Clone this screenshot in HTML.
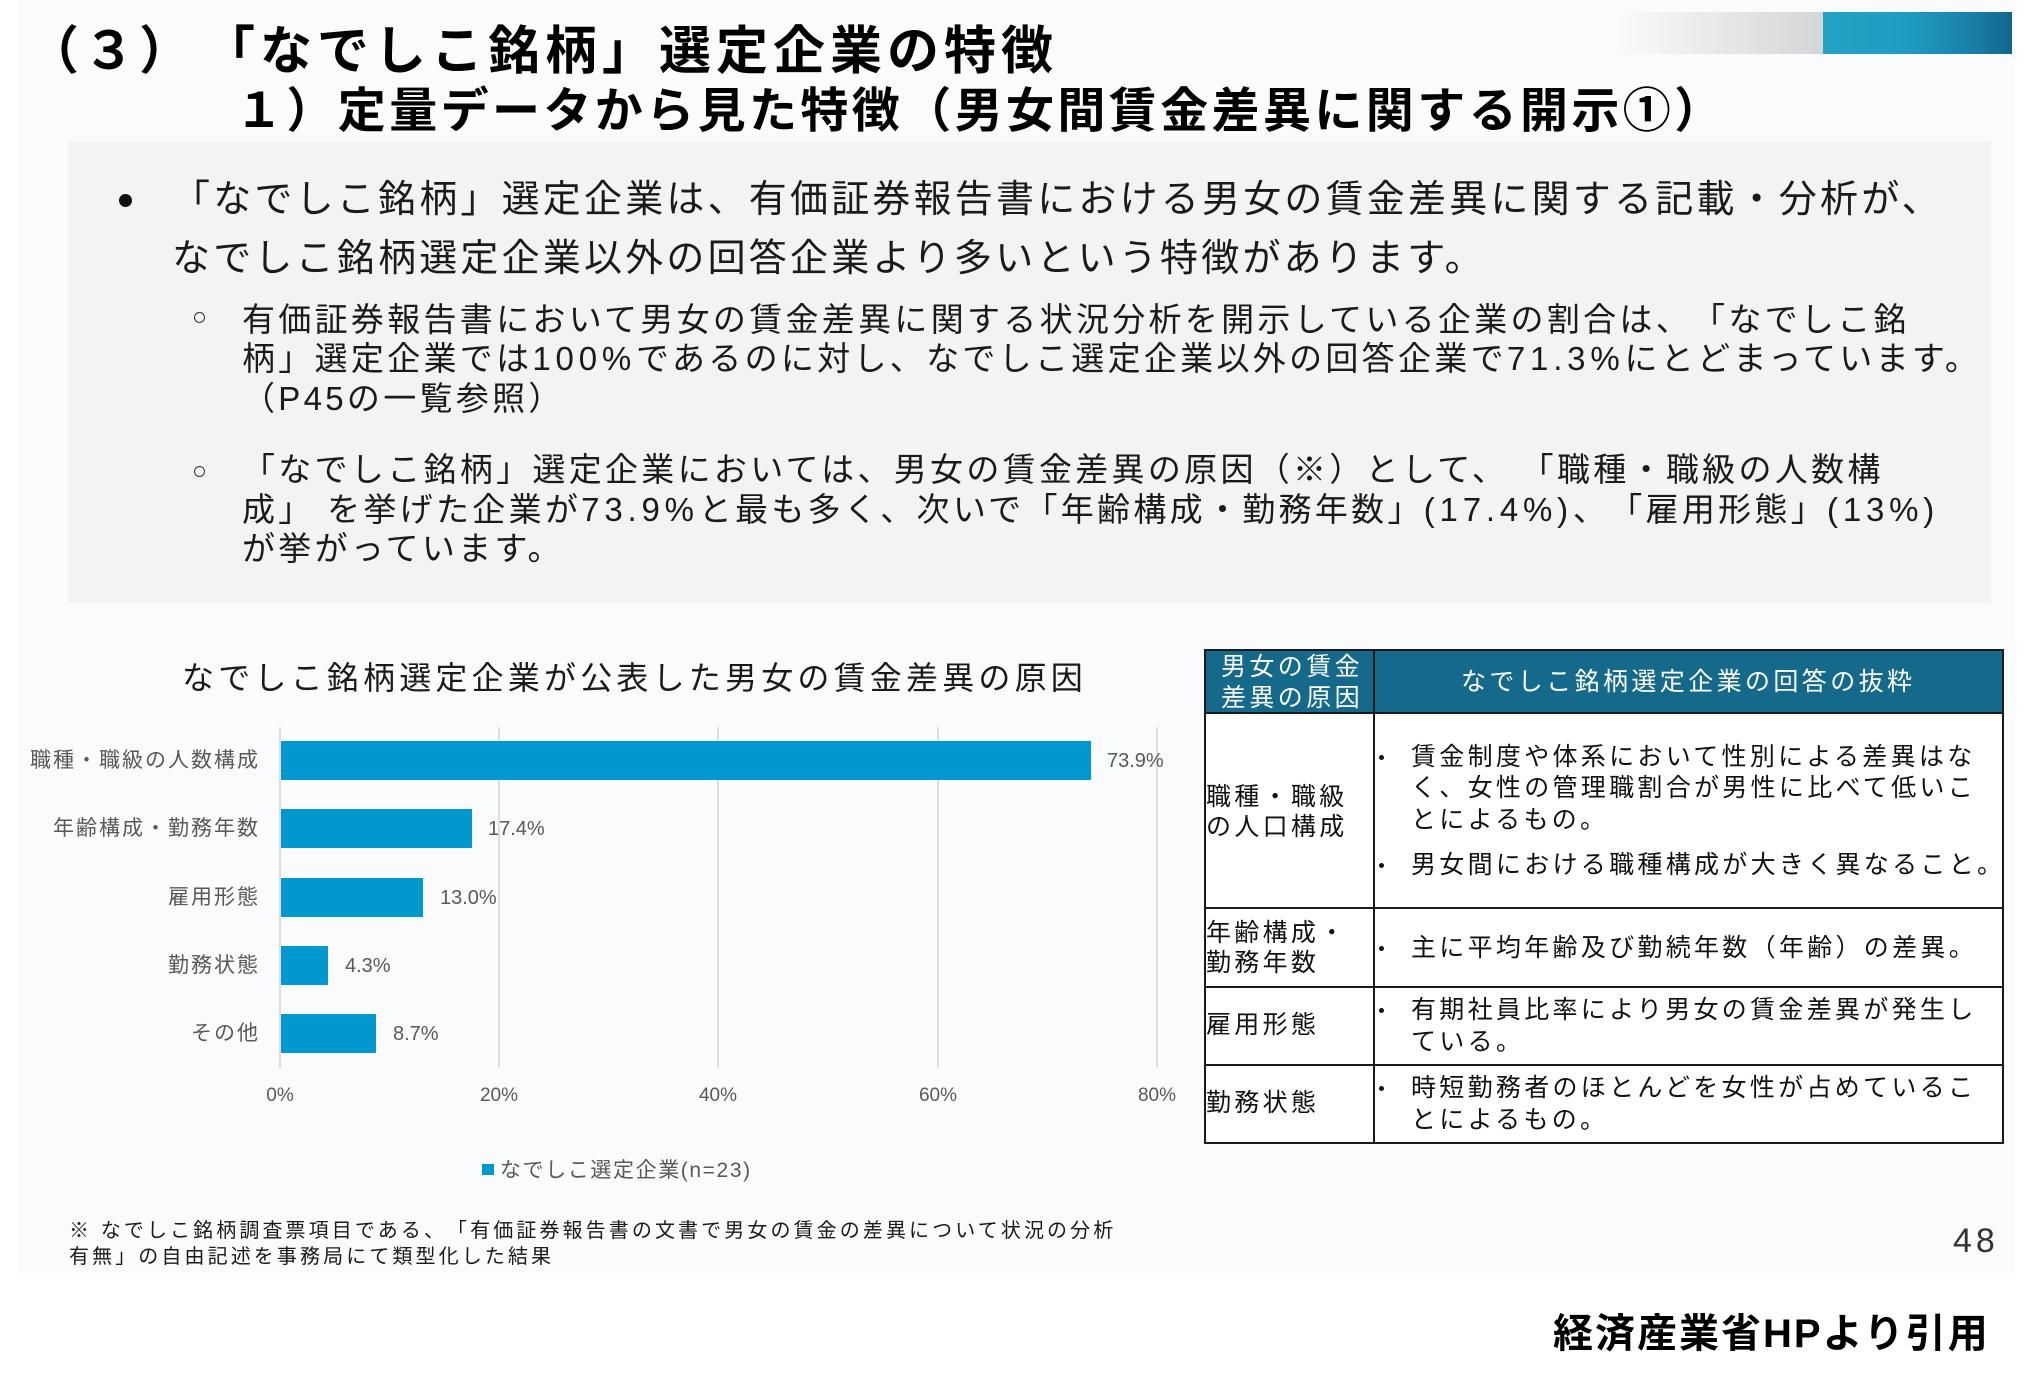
<!DOCTYPE html>
<html><head><meta charset="utf-8">
<style>
html,body{margin:0;padding:0;}
body{width:2035px;height:1375px;background:#ffffff;position:relative;overflow:hidden;}
.t{position:absolute;white-space:nowrap;line-height:1;font-family:"Liberation Sans","Noto Sans CJK JP",sans-serif;color:#111;text-spacing-trim:space-all;}
.b{font-weight:bold;color:#000;}
.abs{position:absolute;}
.gl{position:absolute;width:2px;background:#dedede;top:727px;height:341px;}
.bar{position:absolute;left:281px;height:39px;background:#0397cf;}
.dl{font-size:20px;color:#595959;}
.cat{font-size:21px;letter-spacing:2px;color:#595959;text-align:right;}
.ax{font-size:19px;color:#595959;text-align:center;width:100px;}
.mb{font-size:38px;letter-spacing:3.2px;color:#1a1a1a;}
.sb{font-size:33px;letter-spacing:3.3px;color:#1a1a1a;}
.lt{letter-spacing:4.8px;}
.tc{font-size:25px;letter-spacing:3.3px;color:#111;}
.th{font-size:25px;letter-spacing:3.4px;color:#fff;}
.dot{position:absolute;width:5px;height:5px;border-radius:50%;background:#111;}
.hl{position:absolute;left:1204px;width:800px;height:2px;background:#1a1a1a;}
</style></head>
<body>
<!-- slide background -->
<div class="abs" style="left:18px;top:0;width:1997px;height:1273px;background:#fafbfc;"></div>

<!-- top decorative bar -->
<div class="abs" style="left:1616px;top:12px;width:207px;height:42px;background:linear-gradient(to right,rgba(250,251,252,0),#d3d5d7);"></div>
<div class="abs" style="left:1823px;top:12px;width:189px;height:42px;background:linear-gradient(to right,#22a3c6 0%,#1f9cc2 45%,#1a83ad 75%,#13668b 100%);"></div>

<!-- titles -->
<div class="t b" style="left:27px;top:26px;font-size:52px;letter-spacing:4px;">（３）</div>
<div class="t b" style="left:203px;top:26px;font-size:52px;letter-spacing:5px;">「なでしこ銘柄」選定企業の特徴</div>
<div class="t b" style="left:235px;top:88px;font-size:48px;letter-spacing:3.4px;">１）定量データから見た特徴（男女間賃金差異に関する開示①）</div>

<!-- grey text box -->
<div class="abs" style="left:68px;top:142px;width:1923px;height:461px;background:#f1f3f5;"></div>
<div class="abs" style="left:119px;top:194px;width:13px;height:13px;border-radius:50%;background:#111;"></div>
<div class="t mb" style="left:172px;top:181px;">「なでしこ銘柄」選定企業は、有価証券報告書における男女の賃金差異に関する記載・分析が、</div>
<div class="t mb" style="left:172px;top:240px;">なでしこ銘柄選定企業以外の回答企業より多いという特徴があります。</div>

<div class="abs" style="left:194px;top:312px;width:9px;height:9px;border-radius:50%;border:1.6px solid #333;"></div>
<div class="t sb" style="left:242px;top:303px;">有価証券報告書において男女の賃金差異に関する状況分析を開示している企業の割合は、「なでしこ銘</div>
<div class="t sb" style="left:242px;top:342px;">柄」選定企業では<span class="lt">100%</span>であるのに対し、なでしこ選定企業以外の回答企業で<span class="lt">71.3%</span>にとどまっています。</div>
<div class="t sb" style="left:242px;top:382px;">（P45の一覧参照）</div>

<div class="abs" style="left:194px;top:466px;width:9px;height:9px;border-radius:50%;border:1.6px solid #333;"></div>
<div class="t sb" style="left:242px;top:453px;">「なでしこ銘柄」選定企業においては、男女の賃金差異の原因（※）として、 「職種・職級の人数構</div>
<div class="t sb" style="left:242px;top:493px;">成」 を挙げた企業が<span class="lt">73.9%</span>と最も多く、次いで「年齢構成・勤務年数」<span class="lt">(17.4%)</span>、「雇用形態」<span class="lt">(13%)</span></div>
<div class="t sb" style="left:242px;top:532px;">が挙がっています。</div>

<!-- chart -->
<div class="t" style="left:182px;top:662px;font-size:32px;letter-spacing:4.2px;color:#1a1a1a;">なでしこ銘柄選定企業が公表した男女の賃金差異の原因</div>

<div class="gl" style="left:279px;"></div>
<div class="gl" style="left:498px;"></div>
<div class="gl" style="left:717px;"></div>
<div class="gl" style="left:937px;"></div>
<div class="gl" style="left:1156px;"></div>

<div class="bar" style="top:741px;width:810px;"></div>
<div class="bar" style="top:809px;width:191px;"></div>
<div class="bar" style="top:878px;width:142px;"></div>
<div class="bar" style="top:946px;width:47px;"></div>
<div class="bar" style="top:1014px;width:95px;"></div>

<div class="t dl" style="left:1107px;top:751px;">73.9%</div>
<div class="t dl" style="left:488px;top:819px;">17.4%</div>
<div class="t dl" style="left:440px;top:888px;">13.0%</div>
<div class="t dl" style="left:345px;top:956px;">4.3%</div>
<div class="t dl" style="left:393px;top:1024px;">8.7%</div>

<div class="t cat" style="right:1775px;top:750px;">職種・職級の人数構成</div>
<div class="t cat" style="right:1775px;top:818px;">年齢構成・勤務年数</div>
<div class="t cat" style="right:1775px;top:887px;">雇用形態</div>
<div class="t cat" style="right:1775px;top:955px;">勤務状態</div>
<div class="t cat" style="right:1775px;top:1023px;">その他</div>

<div class="t ax" style="left:230px;top:1086px;">0%</div>
<div class="t ax" style="left:449px;top:1086px;">20%</div>
<div class="t ax" style="left:668px;top:1086px;">40%</div>
<div class="t ax" style="left:888px;top:1086px;">60%</div>
<div class="t ax" style="left:1107px;top:1086px;">80%</div>

<div class="abs" style="left:482px;top:1164px;width:12px;height:11px;background:#0397cf;"></div>
<div class="t" style="left:500px;top:1160px;font-size:21px;letter-spacing:1.6px;color:#595959;">なでしこ選定企業(n=23)</div>

<div class="t" style="left:69px;top:1221px;font-size:20px;letter-spacing:3.1px;color:#1a1a1a;">※ なでしこ銘柄調査票項目である、「有価証券報告書の文書で男女の賃金の差異について状況の分析</div>
<div class="t" style="left:69px;top:1247px;font-size:20px;letter-spacing:3.1px;color:#1a1a1a;">有無」の自由記述を事務局にて類型化した結果</div>

<!-- table -->
<div class="abs" style="left:1205px;top:650px;width:798px;height:493px;background:#ffffff;"></div>
<div class="abs" style="left:1205px;top:650px;width:798px;height:63px;background:#15698b;"></div>
<div class="abs" style="left:1204px;top:649px;width:800px;height:495px;border:2px solid #1a1a1a;box-sizing:border-box;"></div>
<div class="hl" style="top:712px;"></div>
<div class="hl" style="top:907px;"></div>
<div class="hl" style="top:986px;"></div>
<div class="hl" style="top:1064px;"></div>
<div class="abs" style="left:1373px;top:649px;width:2px;height:495px;background:#1a1a1a;"></div>

<div class="t th" style="left:1221px;top:655px;">男女の賃金</div>
<div class="t th" style="left:1221px;top:686px;">差異の原因</div>
<div class="t th" style="left:1461px;top:670px;">なでしこ銘柄選定企業の回答の抜粋</div>

<div class="t tc" style="left:1206px;top:785px;">職種・職級</div>
<div class="t tc" style="left:1206px;top:815px;">の人口構成</div>
<div class="t tc" style="left:1206px;top:921px;">年齢構成・</div>
<div class="t tc" style="left:1206px;top:951px;">勤務年数</div>
<div class="t tc" style="left:1206px;top:1013px;">雇用形態</div>
<div class="t tc" style="left:1206px;top:1091px;">勤務状態</div>

<div class="dot" style="left:1379px;top:755px;"></div>
<div class="t tc" style="left:1411px;top:745px;">賃金制度や体系において性別による差異はな</div>
<div class="t tc" style="left:1411px;top:776px;">く、女性の管理職割合が男性に比べて低いこ</div>
<div class="t tc" style="left:1411px;top:808px;">とによるもの。</div>
<div class="dot" style="left:1379px;top:863px;"></div>
<div class="t tc" style="left:1411px;top:853px;">男女間における職種構成が大きく異なること。</div>

<div class="dot" style="left:1379px;top:946px;"></div>
<div class="t tc" style="left:1411px;top:936px;">主に平均年齢及び勤続年数（年齢）の差異。</div>

<div class="dot" style="left:1379px;top:1008px;"></div>
<div class="t tc" style="left:1411px;top:998px;">有期社員比率により男女の賃金差異が発生し</div>
<div class="t tc" style="left:1411px;top:1030px;">ている。</div>

<div class="dot" style="left:1379px;top:1086px;"></div>
<div class="t tc" style="left:1411px;top:1076px;">時短勤務者のほとんどを女性が占めているこ</div>
<div class="t tc" style="left:1411px;top:1108px;">とによるもの。</div>

<!-- page number & source -->
<div class="t" style="left:1953px;top:1224px;font-size:34px;letter-spacing:4px;color:#333;">48</div>
<div class="t b" style="left:1553px;top:1314px;font-size:40px;letter-spacing:2px;">経済産業省HPより引用</div>
</body></html>
